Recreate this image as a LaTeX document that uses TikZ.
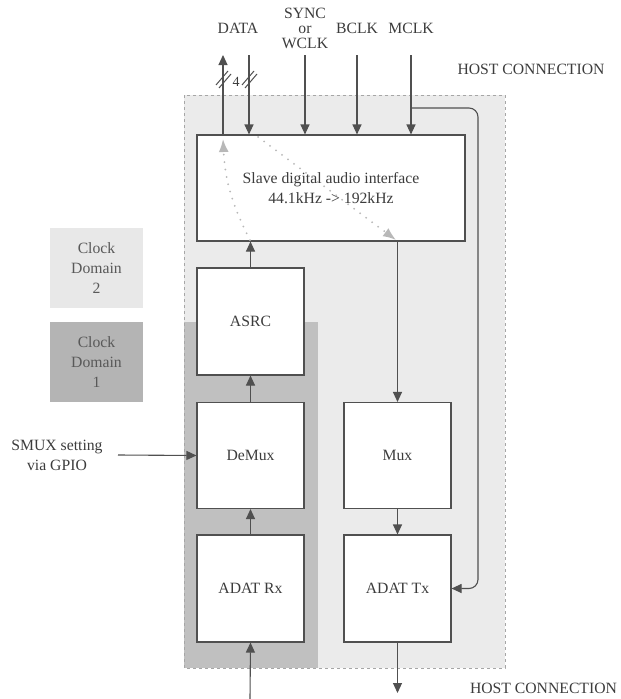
\documentclass[tikz,border=0pt]{standalone}
\usepackage{fontspec}
\setmainfont{Liberation Serif}
\usetikzlibrary{arrows.meta}
\definecolor{txt}{HTML}{3C3C3C}
\definecolor{ln}{HTML}{505050}
\definecolor{lightbg}{HTML}{EBEBEB}
\definecolor{darkbg}{HTML}{C0C0C0}
\definecolor{cdlight}{HTML}{E8E8E8}
\definecolor{cddark}{HTML}{B4B4B4}
\definecolor{dotc}{HTML}{B8B8B8}
\tikzset{
  blk/.style={draw=ln, fill=white, line width=1.1pt, inner sep=0pt, text=txt, font=\fontsize{15.7}{20}\selectfont, align=center},
  lbl/.style={text=txt, font=\fontsize{15.7}{15}\selectfont, align=center, inner sep=0pt},
  arr/.style={draw=ln, line width=1.1pt, -{Triangle[length=10pt,width=9pt]}},
  dotarr/.style={draw=dotc, line width=2pt, line cap=round, dash pattern=on 0pt off 7.5pt, -{Latex[length=13pt,width=10pt,fill=dotc]}},
  cdbox/.style={inner sep=0pt, text=txt!85, font=\fontsize{15.7}{20}\selectfont, align=center, minimum width=93pt, minimum height=80pt}
}
\begin{document}
\begin{tikzpicture}[x=1pt,y=-1pt]
\useasboundingbox (0,0) rectangle (621,699);
% backgrounds
\fill[lightbg] (184,95) rectangle (505,668);
\fill[darkbg] (184,322) rectangle (318,668);
\draw[draw=gray!70, dashed, line width=0.8pt] (184,95) rectangle (505,668);
% clock domains
\node[cdbox, fill=cdlight] (cd2) at (96.5,268) {Clock\\Domain\\2};
\node[cdbox, fill=cddark] (cd1) at (96.5,362) {Clock\\Domain\\1};
% blocks
\node[blk, minimum width=268pt, minimum height=106pt] (slave) at (331,188) {Slave digital audio interface\\44.1kHz -> 192kHz};
\node[blk, minimum width=107pt, minimum height=107pt] (asrc) at (250.5,321.5) {ASRC};
\node[blk, minimum width=107pt, minimum height=106pt] (demux) at (250.5,455.5) {DeMux};
\node[blk, minimum width=107pt, minimum height=107pt] (rx) at (250.5,588.5) {ADAT Rx};
\node[blk, minimum width=107pt, minimum height=106pt] (mux) at (397.5,455.5) {Mux};
\node[blk, minimum width=107pt, minimum height=107pt] (tx) at (397.5,588.5) {ADAT Tx};
% labels
\node[lbl] (ldata) at (238,28) {DATA};
\node[lbl] (lsync) at (305,28) {SYNC\\or\\WCLK};
\node[lbl] (lbclk) at (357,28) {BCLK};
\node[lbl] (lmclk) at (411,28) {MCLK};
\node[lbl] (host1) at (531,69) {HOST CONNECTION};
\node[lbl] (host2) at (543.5,688) {HOST CONNECTION};
\node[lbl, font=\fontsize{15.7}{20}\selectfont] (smux) at (57,455) {SMUX setting\\via GPIO};
\node[lbl, font=\fontsize{14}{14}\selectfont] (four) at (236,82) {4};
% top coordinates
\coordinate (dout) at (223,55);
\coordinate (din) at (249,55);
\coordinate (syn) at (305,55);
\coordinate (bck) at (357,55);
\coordinate (mck) at (411,55);
\coordinate (mj) at (411,108);
\coordinate (mr) at (478,108);
% top arrows
\draw[arr] (slave.north -| dout) -- (dout);
\draw[arr] (din) -- (slave.north -| din);
\draw[arr] (syn) -- (slave.north -| syn);
\draw[arr] (bck) -- (slave.north -| bck);
\draw[arr] (mck) -- (slave.north -| mck);
\draw[arr, rounded corners=9pt] (mj) -- (mr) |- (tx.east);
% bus slashes
\draw[ln, line width=1pt] (216,85) -- (228,71) (219,88) -- (231,74);
\draw[ln, line width=1pt] (242,85) -- (254,71) (245,88) -- (257,74);
% chain
\draw[arr] (asrc) -- (slave.south -| asrc);
\draw[arr] (demux) -- (asrc);
\draw[arr] (rx) -- (demux);
\coordinate (rxin) at (250,699);
\draw[arr] (rxin) -- (rx.south);
\draw[arr] (slave.south -| mux) -- (mux);
\draw[arr] (mux) -- (tx);
\coordinate (txout) at (397.5,693);
\draw[arr] (tx.south) -- (txout);
\coordinate (smuxs) at (118,455);
\draw[arr] (smuxs) -- (demux.west);
% dotted
\coordinate (d1s) at (250,240);
\coordinate (d1e) at (223,139);
\coordinate (d2s) at (258,137);
\coordinate (d2e) at (396,240);
\draw[dotarr] (d1s) to[bend left=12] (d1e);
\draw[dotarr] (d2s) -- (d2e);
\end{tikzpicture}
\end{document}
